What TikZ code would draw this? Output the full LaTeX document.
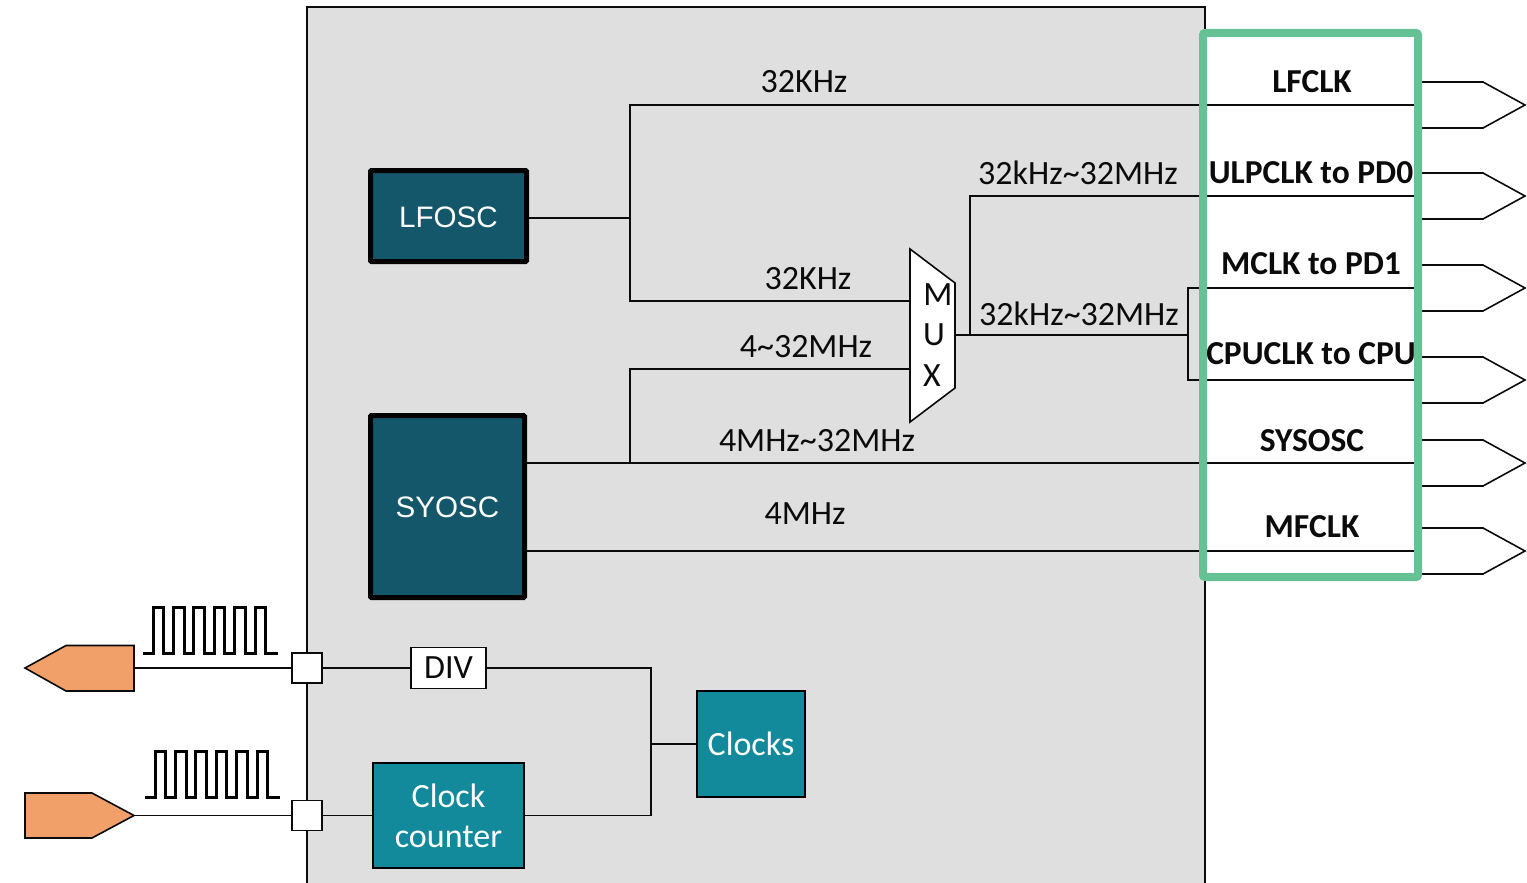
\documentclass[tikz,border=0pt]{standalone}
\usepackage{fontspec}
\setmainfont{Carlito}
\setsansfont{Liberation Sans}
\usetikzlibrary{positioning,calc}
\definecolor{ink}{HTML}{0B0B0B}
\definecolor{panel}{HTML}{DFDFDF}
\definecolor{oscfill}{HTML}{14576A}
\definecolor{clkfill}{HTML}{128A9B}
\definecolor{padfill}{HTML}{F0A068}
\definecolor{outgreen}{HTML}{66C295}
\tikzset{
  x=1pt, y=-1pt,
  every node/.style={font=\fontsize{34}{40}\selectfont, text=ink},
  wire/.style={draw=ink, line width=1.6pt},
  osc/.style={draw=black, fill=oscfill, line width=5pt, rounded corners=1pt, text=white, inner sep=0pt, text height=22.5pt, text depth=0pt, font=\fontsize{29.6}{36}\selectfont\sffamily},
  clk/.style={draw=black, fill=clkfill, line width=1.6pt, text=white, align=center, inner sep=0pt},
  plain/.style={draw=ink, fill=white, line width=1.6pt, inner sep=0pt},
  rate/.style={inner sep=0pt},
  sink/.style={inner sep=0pt, font=\fontsize{33.5}{40}\selectfont\bfseries},
  pad/.style={draw=ink, fill=padfill, line width=1.6pt},
}
\newcommand{\outpin}[2]{% #1 name, #2 y
  \coordinate (#1) at (1415,#2);
  \draw[wire] (1422,#2-23) -- (1483,#2-23) -- (1525,#2) -- (1483,#2+23) -- (1422,#2+23);
}
\newcommand{\clockwave}[2]{% #1 x, #2 y of the low level at the start
  \draw[draw=black, line width=3pt] (#1,#2) -- ++(10,0)
    \foreach \k in {0,...,5} { -- ++(0,-46) -- ++(10.6,0) -- ++(0,46) -- ++(9.8,0) } -- ++(2.6,0);
}
\begin{document}
\begin{tikzpicture}
  \useasboundingbox (0,0) rectangle (1527,883);
  \node[draw=ink, fill=panel, line width=1.6pt, minimum width=898pt, minimum height=880pt, anchor=north west, inner sep=0pt, outer sep=0pt] (chip) at (307,7) {};
  \fill[white] (1203,33) rectangle (1418,577);

  \node[osc, minimum width=156pt, minimum height=91pt] (lfosc) at (448.5,216) {LFOSC};
  \node[osc, minimum width=154pt, minimum height=182pt] (syosc) at (447.5,506.5) {SYOSC};
  \node[clk, minimum width=108pt, minimum height=106pt] (clocks) at (751,744) {Clocks};
  \node[clk, minimum width=151pt, minimum height=105pt] (counter) at (448.5,815.5) {Clock\\counter};
  \node[plain, minimum width=75pt, minimum height=41pt] (div) at (448.5,668) {DIV};
  \node[plain, minimum width=30pt, minimum height=30pt] (portup) at (307,668) {};
  \node[plain, minimum width=30pt, minimum height=30pt] (portdown) at (307,815.5) {};

  \outpin{lfclk}{105}
  \outpin{ulpclk}{196}
  \outpin{mclk}{288}
  \outpin{cpuclk}{380}
  \outpin{sysosc}{463}
  \outpin{mfclk}{551}

  % mux
  \coordinate (muxa) at (910,301);
  \coordinate (muxb) at (910,369);
  \coordinate (muxout) at (955,335);
  \draw[wire] (lfosc.east |- 0,218) -- (630,218);
  \draw[wire] (lfclk) -- (630,105) -- (630,301) -- (muxa);
  \draw[wire] (syosc.east |- sysosc) -- (sysosc);
  \draw[wire] (syosc.east |- mfclk) -- (mfclk);
  \draw[wire] (630,463) -- (630,369) -- (muxb);
  \draw[wire] (muxout) -- (1188,335);
  \draw[wire] (970,335) -- (970,196) -- (ulpclk);
  \draw[wire] (mclk) -- (1188,288) -- (1188,380) -- (cpuclk);
  \draw[wire, fill=white] (910,249) -- (955,283) -- (955,388) -- (910,422) -- cycle;
  \node[rate] (muxm) at (938,295) {M};
  \node[rate] (muxu) at (934,335) {U};
  \node[rate] (muxx) at (932,376) {X};

  \draw[wire] (portup) -- (div);
  \draw[wire] (portdown) -- (counter);
  \draw[wire] (div.east) -- (651,668) -- (651,815.5) -- (counter.east);
  \draw[wire] (651,744) -- (clocks.west);

  % pads on the left
  \draw[pad] (25,668) -- (66,645.5) -- (134,645.5) -- (134,691) -- (66,691) -- cycle;
  \draw[pad] (25,793) -- (92,793) -- (134,815.5) -- (92,838) -- (25,838) -- cycle;
  \coordinate (padup) at (134,668);
  \coordinate (paddown) at (134,815.5);
  \draw[wire] (padup) -- (portup);
  \draw[wire] (paddown) -- (portdown);
  \clockwave{143}{653}
  \clockwave{145}{797}

  \node[draw=outgreen, line width=8pt, rounded corners=2pt, minimum width=215pt, minimum height=544pt, inner sep=0pt] (outbox) at (1310.5,305) {};

  \node[rate] (lbla) at (804,82) {32KHz};
  \node[rate] (lblb) at (1078,173) {32kHz\string~32MHz};
  \node[rate] (lblc) at (808,279) {32KHz};
  \node[rate] (lbld) at (806,347) {4\string~32MHz};
  \node[rate] (lble) at (1079,314) {32kHz\string~32MHz};
  \node[rate] (lblf) at (817,441) {4MHz\string~32MHz};
  \node[rate] (lblg) at (805,514) {4MHz};

  \node[sink] (lblh) at (1312,82) {LFCLK};
  \node[sink] (lbli) at (1311,173) {ULPCLK to PD0};
  \node[sink] (lblj) at (1311,264) {MCLK to PD1};
  \node[sink] (lblk) at (1311,354) {CPUCLK to CPU};
  \node[sink] (lbll) at (1312,441) {SYSOSC};
  \node[sink] (lblm) at (1312,527) {MFCLK};
\end{tikzpicture}
\end{document}
